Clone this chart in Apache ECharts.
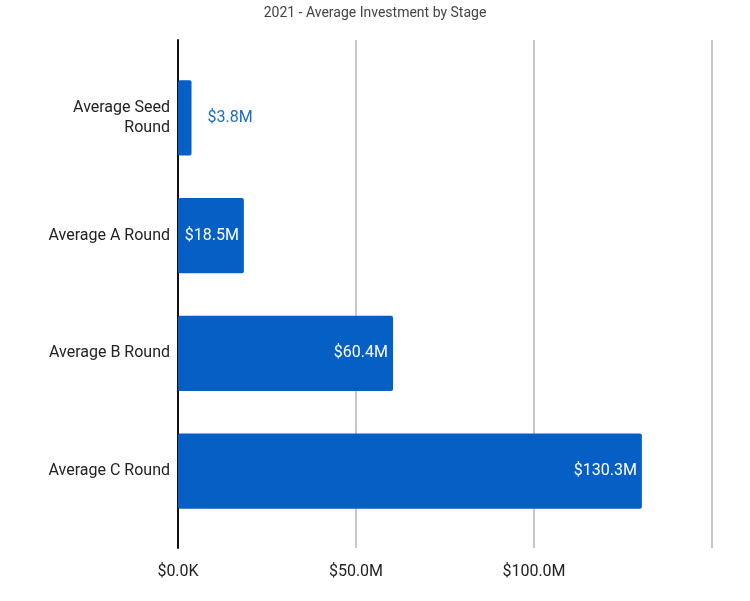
<!DOCTYPE html>
<html>
<head>
<meta charset="utf-8">
<script src="https://cdn.jsdelivr.net/npm/echarts@6/dist/echarts.min.js"></script>
<style>
html,body{margin:0;padding:0;background:#fff;}
#chart{width:750px;height:601px;}
</style>
</head>
<body>
<div id="chart"></div>
<script>
const title = '2021 - Average Investment by Stage';
const categories = ['Average Seed Round', 'Average A Round', 'Average B Round', 'Average C Round'];
const values = [3.8, 18.5, 60.4, 130.3]; // millions of dollars
const tickLabels = ['$0.0K', '$50.0M', '$100.0M', ''];

const categoryLabels = {'Average Seed Round': 'Average Seed\nRound'};
const BAR = '#055fc5';
const FONT = 'Roboto';

const chart = echarts.init(document.getElementById('chart'));
const barData = values.map((v, i) => i === 0
  ? {value: v, label: {position: 'right', distance: 16, color: '#1a6acb'}}
  : v);

chart.setOption({
  animation: false,
  backgroundColor: '#fff',
  textStyle: {fontFamily: FONT},
  title: {
    text: title, left: 'center', top: 1,
    textStyle: {fontSize: 14, fontWeight: 'normal', color: '#444', fontFamily: FONT}
  },
  grid: [
    {left: 178, right: 38, top: 40, bottom: 53},
    {left: 178, right: 38, top: 59, bottom: 71}
  ],
  xAxis: [
    {
      gridIndex: 0, type: 'value', min: 0, max: 150, interval: 50,
      axisLine: {show: false}, axisTick: {show: false},
      splitLine: {show: true, lineStyle: {color: '#c6c6c6', width: 2}},
      axisLabel: {
        margin: 16, fontSize: 16, color: '#222', fontFamily: FONT,
        formatter: (v) => tickLabels[Math.round(v / 50)] || ''
      }
    },
    {gridIndex: 1, type: 'value', min: 0, max: 150, interval: 50, show: false}
  ],
  yAxis: [
    {
      gridIndex: 0, type: 'value', min: 0, max: 1,
      axisLine: {show: true, lineStyle: {color: '#111', width: 2}},
      axisTick: {show: false}, axisLabel: {show: false}, splitLine: {show: false}
    },
    {
      gridIndex: 1, type: 'category', inverse: true, data: categories,
      axisLine: {show: false}, axisTick: {show: false}, splitLine: {show: false},
      axisLabel: {
        margin: 8, fontSize: 16, color: '#222', fontFamily: FONT, lineHeight: 20, align: 'right',
        padding: [3, 0, 0, 0],
        formatter: (v) => categoryLabels[v] || v
      }
    }
  ],
  series: [{
    type: 'bar', xAxisIndex: 1, yAxisIndex: 1,
    data: barData, barWidth: '64%',
    itemStyle: {color: BAR, borderRadius: 2},
    label: {
      show: true, position: 'insideRight', distance: 5,
      color: '#fff', fontSize: 16, fontFamily: FONT,
      formatter: (p) => '$' + p.value.toFixed(1) + 'M'
    }
  }]
});
</script>
</body>
</html>
